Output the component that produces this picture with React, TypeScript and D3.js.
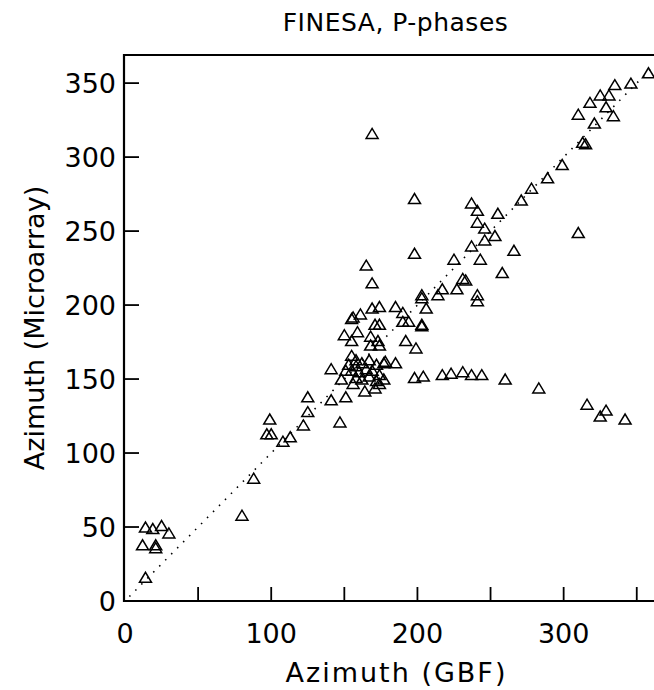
import React from "react";
import * as d3 from "d3";

const W = 654;
const H = 690;

const titleText = "FINESA, P-phases";
const xLabel = "Azimuth (GBF)";
const yLabel = "Azimuth (Microarray)";

const xTickValues = [50, 100, 150, 200, 250, 300, 350];
const xTickLabels = [0, 100, 200, 300];
const yTickValues = [0, 50, 100, 150, 200, 250, 300, 350];

// GBF azimuth (x) and Microarray azimuth (y)
const gbf = [
  358, 346, 335, 318, 325, 331, 329, 334, 310, 321, 313, 315, 299, 289, 278, 271,
  310, 255, 237, 241, 241, 246, 253, 246, 266, 237, 243, 225, 258, 231, 233, 227,
  217, 214, 203, 203, 241, 241, 206, 169, 198, 198, 165, 169, 174, 169, 185, 190,
  156, 161, 171, 174, 190, 194, 203,
  203, 155, 150, 155, 159, 168, 173, 168, 174, 192, 199, 141, 155, 158, 151, 185, 178,
  153, 158, 162, 167, 172, 177, 155, 160, 165, 169, 174, 158, 162, 167, 172, 177,
  156, 164, 171, 174, 148,
  141, 151, 147, 125, 125, 122, 113, 108, 99, 97, 100, 88, 80,
  14, 19, 25, 30, 12, 21, 21, 14,
  198, 204, 217, 223, 231, 237, 244, 260, 283, 316, 325, 329, 342,
];
const micro = [
  357, 350, 349, 337, 342, 342, 334, 328, 329, 323, 310, 309, 295, 286, 279, 271,
  249, 262, 269, 264, 256, 252, 247, 244, 237, 240, 231, 231, 222, 218, 217, 211,
  211, 207, 207, 205, 207, 203, 198, 316, 272, 235, 227, 215, 199, 198, 199, 195,
  192, 194, 187, 187, 189, 189, 187,
  186, 191, 180, 176, 182, 179, 176, 173, 173, 176, 171, 157, 166, 163, 156, 161, 162,
  160, 159, 161, 163, 160, 161, 156, 155, 157, 156, 153, 151, 150, 152, 149, 150,
  147, 142, 144, 147, 150,
  136, 138, 121, 138, 128, 119, 111, 108, 123, 113, 113, 83, 58,
  50, 49, 51, 46, 38, 36, 38, 16,
  151, 152, 153, 154, 155, 153, 153, 150, 144, 133, 125, 129, 123,
];

const diagonal = [3, 366];

export default function App() {
  const x = d3.scaleLinear().domain([0, 370]).range([125, 666]);
  const y = d3.scaleLinear().domain([0, 369]).range([601, 55]);
  const left = 124;
  const bottom = y(0);
  const top = y(369);
  const font = "'DejaVu Sans', sans-serif";

  const tri = (cx: number, cy: number) =>
    `M${cx - 6},${cy + 5}L${cx + 6},${cy + 5}L${cx},${cy - 5}Z`;

  const line = d3
    .line<number>()
    .x((d) => x(d))
    .y((d) => y(d));

  return (
    <svg
      width={W}
      height={H}
      style={{ position: "absolute", left: 0, top: 0, background: "#fff" }}
    >
      <rect width={W} height={H} fill="#fff" />
      <text
        x={(x(0) + x(370)) / 2}
        y={31}
        textAnchor="middle"
        fontFamily={font}
        fontSize={25}
        letterSpacing={0.5}
        fill="#000"
      >
        {titleText}
      </text>

      {/* frame */}
      <path
        d={`M${W},${top}H${left}V${bottom}H${W}`}
        fill="none"
        stroke="#000"
        strokeWidth={2.2}
      />

      {/* ticks */}
      {yTickValues.map((v) => (
        <line key={"yt" + v} x1={left} x2={left + 15} y1={y(v)} y2={y(v)} stroke="#000" strokeWidth={1.8} />
      ))}
      {xTickValues.map((v) => (
        <line key={"xt" + v} x1={x(v)} x2={x(v)} y1={bottom} y2={bottom - 14} stroke="#000" strokeWidth={1.8} />
      ))}

      {yTickValues.map((v) => (
        <text
          key={"yl" + v}
          x={116}
          y={y(v) + 10}
          textAnchor="end"
          fontFamily={font}
          fontSize={27}
          fill="#000"
        >
          {v}
        </text>
      ))}
      {xTickLabels.map((v) => (
        <text
          key={"xl" + v}
          x={x(v)}
          y={643}
          textAnchor="middle"
          fontFamily={font}
          fontSize={27}
          fill="#000"
        >
          {v}
        </text>
      ))}

      <text
        x={(x(0) + x(370)) / 2 + 1}
        y={682}
        textAnchor="middle"
        fontFamily={font}
        fontSize={27}
        letterSpacing={2}
        fill="#000"
      >
        {xLabel}
      </text>
      <text
        transform={`translate(44,${(top + bottom) / 2}) rotate(-90)`}
        textAnchor="middle"
        fontFamily={font}
        fontSize={27}
        fill="#000"
      >
        {yLabel}
      </text>

      {/* y = x reference */}
      <path
        d={line(diagonal) || ""}
        fill="none"
        stroke="#000"
        strokeWidth={1.6}
        strokeDasharray="1.5 7"
      />

      {gbf.map((g, i) => (
        <path
          key={"p" + i}
          d={tri(x(g), y(micro[i]))}
          fill="none"
          stroke="#000"
          strokeWidth={1.5}
          strokeLinejoin="miter"
        />
      ))}
    </svg>
  );
}
